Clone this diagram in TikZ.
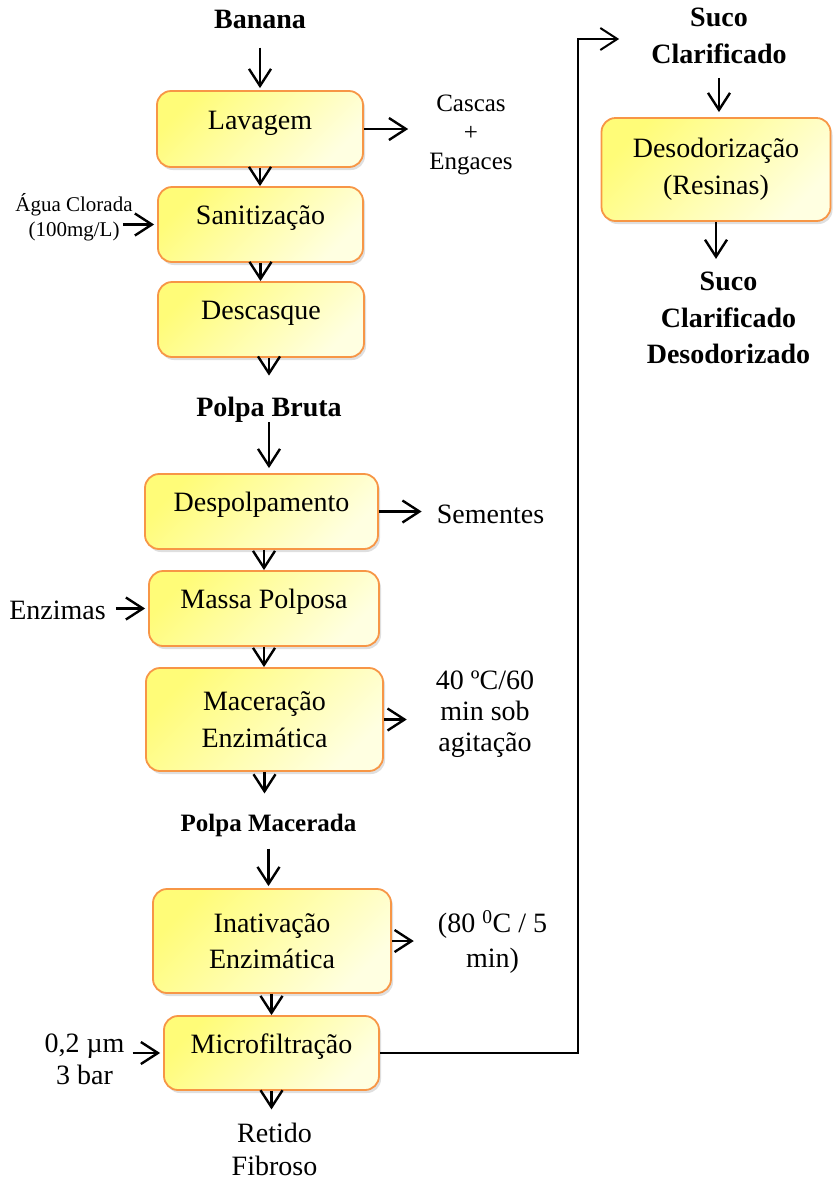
\documentclass[tikz,border=0pt]{standalone}
\usepackage{fontspec}
\setmainfont{Liberation Serif}
\usetikzlibrary{arrows.meta,shadows}

\definecolor{boxline}{RGB}{247,150,70}
\definecolor{boxtop}{RGB}{255,252,120}
\definecolor{boxbot}{RGB}{255,255,225}

\begin{document}
\begin{tikzpicture}[
    x = 1pt,
    y = -1pt,
    font = \fontsize{28}{36.5}\selectfont,
    >= {Straight Barb[length=17pt,width=22pt]},
    flow/.style = {->, line width=2.4pt},
    procbox/.style = {
      draw = boxline,
      line width = 1.8pt,
      rounded corners = 14pt,
      top color = boxtop,
      bottom color = boxbot,
      shading angle = 45,
      drop shadow = {shadow xshift=2pt, shadow yshift=-3pt, opacity=0.25},
      align = center,
      inner sep = 0pt
    },
    oneline/.style = {text height=12pt, text depth=12pt},
    lbl/.style = {inner sep=0pt, align=center, font=\fontsize{28}{32}\selectfont},
    title/.style = {inner sep=0pt, align=center, font=\fontsize{28}{36.5}\selectfont\bfseries}
  ]
  \useasboundingbox (0,0) rectangle (833,1179);

  % left column
  \node[title] (banana) at (260,19) {Banana};
  \node[procbox, oneline, minimum width=206pt, minimum height=76pt] (lav) at (260,129) {Lavagem};
  \node[procbox, oneline, minimum width=205pt, minimum height=75pt] (san) at (260.5,224.5) {Sanitização};
  \node[procbox, oneline, minimum width=206pt, minimum height=75pt] (desc) at (261,319.5) {Descasque};
  \node[title] (pbruta) at (269,409.5) {Polpa Bruta};
  \node[procbox, oneline, minimum width=233pt, minimum height=75pt] (despol) at (261.5,511.5) {Despolpamento};
  \node[procbox, oneline, minimum width=230pt, minimum height=75pt] (massa) at (264,608.5) {Massa Polposa};
  \node[procbox, minimum width=237pt, minimum height=103pt] (macer) at (264.5,719.5) {Maceração\\Enzimática};
  \node[title, font=\fontsize{25}{30}\selectfont\bfseries] (pmacer) at (268.5,825) {Polpa Macerada};
  \node[procbox, minimum width=238pt, minimum height=104pt] (inat) at (272,941) {Inativação\\Enzimática};
  \node[procbox, oneline, minimum width=215pt, minimum height=74pt] (micro) at (271.5,1053) {Microfiltração};
  \node[lbl, font=\fontsize{28}{33}\selectfont] (retido) at (274.5,1149) {Retido\\Fibroso};

  % side inputs and outputs
  \node[lbl, font=\fontsize{25}{29}\selectfont] (cascas) at (471,135) {Cascas\\+\\Engaces};
  \node[lbl, font=\fontsize{21}{25}\selectfont] (agua) at (74,217.5) {Água Clorada\\(100mg/L)};
  \node[lbl] (sementes) at (490.5,514) {Sementes};
  \node[lbl] (enzimas) at (57.5,610) {Enzimas};
  \node[lbl, font=\fontsize{28}{31}\selectfont] (cond1) at (485,714.5) {40 ºC/60\\min sob\\agitação};
  \node[lbl, font=\fontsize{28}{35}\selectfont] (cond2) at (492.5,941.5) {(80 \textsuperscript{0}C / 5\\min)};
  \node[lbl] (pressure) at (84.5,1059.5) {0,2 µm\\3 bar};

  % right column
  \node[title] (suco1) at (719,36) {Suco\\Clarificado};
  \node[procbox, minimum width=229pt, minimum height=103pt] (desod) at (716,169.5) {Desodorização\\(Resinas)};
  \node[title] (suco2) at (728.5,318) {Suco\\Clarificado\\Desodorizado};

  \coordinate (riser) at (578,39);

  % main flow
  \draw[flow, shorten <=19pt, shorten >=2pt] (banana) -- (banana |- lav.north);
  \draw[flow] (lav.south) -- (lav.south |- san.north);
  \draw[flow] (san.south) -- (san.south |- desc.north);
  \draw[flow, shorten >=21pt] (desc.south -| pbruta) -- (pbruta);
  \draw[flow, shorten >=5pt] (pbruta) -- (pbruta |- despol.north);
  \draw[flow] (despol.south -| massa) -- (massa.north);
  \draw[flow] (massa.south) -- (massa.south |- macer.north);
  \draw[flow, shorten >=20pt] (macer.south) -- (macer.south |- pmacer.north);
  \draw[flow, shorten <=12pt, shorten >=2pt] (pmacer) -- (pmacer |- inat.north);
  \draw[flow] (inat.south -| micro) -- (micro.north);
  \draw[flow, shorten >=13pt] (micro.south) -- (micro.south |- retido.north);
  \draw[flow, line width=2pt, shorten >=32pt] (micro.east) -| (riser) -- (riser -| suco1.west);
  \draw[flow, shorten <=14pt, shorten >=5pt] (suco1) -- (suco1 |- desod.north);
  \draw[flow, shorten >=13pt] (desod.south) -- (desod.south |- suco2.north);

  % side arrows
  \draw[flow, shorten >=21pt] (lav.east) -- (lav.east -| cascas.west);
  \draw[flow, shorten <=-10pt, shorten >=3pt] (agua.east |- san.west) -- (san.west);
  \draw[flow, shorten >=15pt] (despol.east) -- (despol.east -| sementes.west);
  \draw[flow, shorten <=10pt, shorten >=3pt] (enzimas.east |- massa.west) -- (massa.west);
  \draw[flow, shorten >=29pt] (macer.east) -- (macer.east -| cond1.west);
  \draw[flow, shorten >=24pt] (inat.east) -- (inat.east -| cond2.west);
  \draw[flow, shorten <=8pt, shorten >=3pt] (pressure.east |- micro.west) -- (micro.west);

\end{tikzpicture}
\end{document}
